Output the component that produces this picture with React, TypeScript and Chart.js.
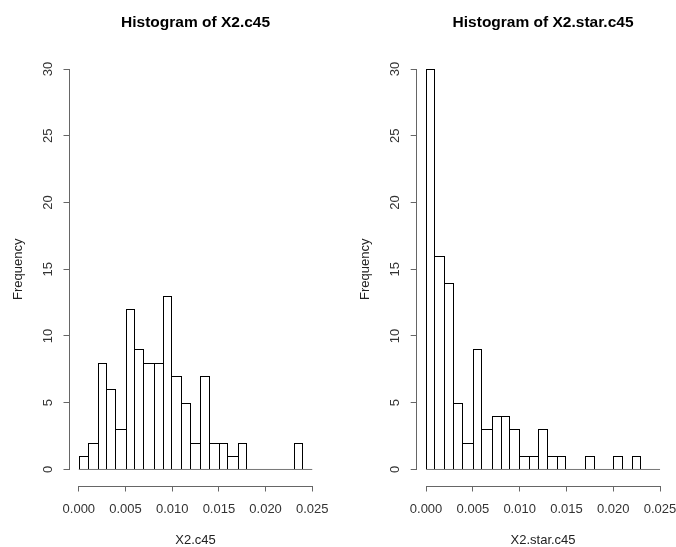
import React, { useEffect, useRef } from "react";
import { Chart, registerables } from "chart.js";

Chart.register(...registerables);

// Histogram bin edges (shared by both panels)
const breaks = [
  0, 0.001, 0.002, 0.003, 0.004, 0.005, 0.006, 0.007, 0.008, 0.009, 0.01, 0.011, 0.012,
  0.013, 0.014, 0.015, 0.016, 0.017, 0.018, 0.019, 0.02, 0.021, 0.022, 0.023, 0.024, 0.025,
];

// Frequencies
const countsX2c45 = [1, 2, 8, 6, 3, 12, 9, 8, 8, 13, 7, 5, 2, 7, 2, 2, 1, 2, 0, 0, 0, 0, 0, 2, 0];
const countsX2starc45 = [30, 16, 14, 5, 2, 9, 3, 4, 4, 3, 1, 1, 3, 1, 1, 0, 0, 1, 0, 0, 1, 0, 1, 0, 0];

const xTickValues = [0, 0.005, 0.01, 0.015, 0.02, 0.025];
const xTickLabels = ["0.000", "0.005", "0.010", "0.015", "0.020", "0.025"];
const yTickValues = [0, 5, 10, 15, 20, 25, 30];
const yTickLabels = ["0", "5", "10", "15", "20", "25", "30"];

const titleLeft = "Histogram of X2.c45";
const titleRight = "Histogram of X2.star.c45";
const xLabelLeft = "X2.c45";
const xLabelRight = "X2.star.c45";
const yLabel = "Frequency";

const FONT = "'Liberation Sans', Arial, Helvetica, sans-serif";
const W = 338;
const H = 547;
const AXIS_COLOR = "#666";

const alignPx = (p: number) => Math.round(p - 0.5) + 0.5;

// R-style axes: line only between first and last tick
const rAxes = {
  id: "rAxes",
  afterDraw(chart: any) {
    const { ctx, chartArea: a, scales } = chart;
    const x = scales.x;
    const y = scales.y;
    ctx.save();
    ctx.strokeStyle = AXIS_COLOR;
    ctx.lineWidth = 1;
    ctx.beginPath();
    const yLine = Math.round(a.bottom) + 0.5;
    ctx.moveTo(alignPx(x.getPixelForValue(xTickValues[0])) - 0.5, yLine);
    ctx.lineTo(alignPx(x.getPixelForValue(xTickValues[xTickValues.length - 1])) + 0.5, yLine);
    const xLine = Math.round(a.left) - 0.5;
    ctx.moveTo(xLine, alignPx(y.getPixelForValue(yTickValues[0])) + 0.5);
    ctx.lineTo(xLine, alignPx(y.getPixelForValue(yTickValues[yTickValues.length - 1])) - 0.5);
    ctx.stroke();
    ctx.restore();
  },
};

// Snap bar edges to whole pixels so outlines are crisp
const snapBars = {
  id: "snapBars",
  beforeDatasetsDraw(chart: any) {
    chart.data.datasets.forEach((_ds: any, i: number) => {
      const meta = chart.getDatasetMeta(i);
      if (meta.type !== "bar") return;
      meta.data.forEach((el: any) => {
        const l = Math.round(el.x - el.width / 2);
        const r = Math.round(el.x + el.width / 2);
        el.x = (l + r) / 2;
        el.width = r - l;
        el.y = Math.round(el.y);
        el.base = Math.round(el.base);
      });
    });
  },
};

type PanelProps = {
  title: string;
  xLabel: string;
  counts: number[];
  areaLeft: number;
  areaRight: number;
  freqPad: number;
  offsetX: number;
};

function Panel({ title, xLabel, counts, areaLeft, areaRight, freqPad, offsetX }: PanelProps) {
  const ref = useRef<HTMLCanvasElement>(null);
  useEffect(() => {
    const canvas = ref.current;
    if (!canvas) return;
    const bars = counts.map((c, i) => ({ x: (breaks[i] + breaks[i + 1]) / 2, y: c }));
    const tickFont = { family: FONT, size: 13, lineHeight: 1.2 };
    const chart = new Chart(canvas, {
      type: "bar",
      data: {
        datasets: [
          {
            type: "line",
            data: [
              { x: breaks[0], y: 0 },
              { x: breaks[breaks.length - 1], y: 0 },
            ],
            borderColor: "#777",
            borderWidth: 1,
            pointRadius: 0,
            fill: false,
            order: 0,
          } as any,
          {
            type: "bar",
            data: bars,
            backgroundColor: "#ffffff",
            borderColor: "#000",
            borderSkipped: false,
            inflateAmount: 0,
            barPercentage: 1,
            categoryPercentage: 1,
            order: 1,
            borderWidth: (c: any) => {
              const i = c.dataIndex;
              const h = counts[i];
              if (!h) return 0;
              const prev = i > 0 ? counts[i - 1] : 0;
              const next = i < counts.length - 1 ? counts[i + 1] : 0;
              return { top: 1, bottom: 0, left: h >= prev ? 1 : 0, right: h > next ? 1 : 0 };
            },
          } as any,
        ],
      },
      options: {
        responsive: false,
        animation: false,
        events: [],
        layout: { padding: { left: 0, right: W - areaRight, top: 0, bottom: 0 } },
        plugins: {
          legend: { display: false },
          tooltip: { enabled: false },
          title: {
            display: true,
            text: title,
            fullSize: false,
            color: "#000",
            font: { family: FONT, size: 15.5, weight: "bold", lineHeight: 1.2 },
            padding: { top: 13.2, bottom: 21.2 },
          },
        },
        scales: {
          x: {
            type: "linear",
            min: -0.001,
            max: 0.026,
            offset: false,
            afterBuildTicks: (s: any) => {
              s.ticks = xTickValues.map((v) => ({ value: v }));
            },
            afterFit: (s: any) => {
              s.height = H - 485.5;
              s.paddingLeft = 0;
              s.paddingRight = 0;
            },
            ticks: {
              callback: (_v: any, i: number) => xTickLabels[i],
              color: "#333",
              font: tickFont,
              padding: 10,
              minRotation: 0,
              maxRotation: 0,
              autoSkip: false,
            },
            grid: {
              offset: false,
              drawOnChartArea: false,
              drawTicks: true,
              tickLength: 6,
              tickColor: AXIS_COLOR,
              tickWidth: 1,
            },
            border: { display: false },
            title: {
              display: true,
              text: xLabel,
              color: "#222",
              font: { family: FONT, size: 13, lineHeight: 1 },
              padding: { top: 0, bottom: 0 },
            },
          } as any,
          y: {
            type: "linear",
            min: -1.2,
            max: 31.2,
            afterBuildTicks: (s: any) => {
              s.ticks = yTickValues.map((v) => ({ value: v }));
            },
            afterFit: (s: any) => {
              s.width = areaLeft;
              s.paddingTop = 0;
              s.paddingBottom = 0;
            },
            ticks: {
              callback: (_v: any, i: number) => yTickLabels[i],
              color: "#333",
              font: tickFont,
              padding: 8,
              minRotation: 90,
              maxRotation: 90,
              crossAlign: "center",
              autoSkip: false,
            },
            grid: {
              drawOnChartArea: false,
              drawTicks: true,
              tickLength: 6,
              tickColor: AXIS_COLOR,
              tickWidth: 1,
            },
            border: { display: false },
            title: {
              display: true,
              text: yLabel,
              color: "#222",
              font: { family: FONT, size: 13, lineHeight: 1.2 },
              padding: { top: freqPad, bottom: 0 },
            },
          } as any,
        },
      } as any,
      plugins: [snapBars, rAxes],
    });
    return () => chart.destroy();
  }, []);
  return (
    <canvas
      ref={ref}
      width={W}
      height={H}
      style={{ position: "absolute", left: offsetX, top: 0, width: W, height: H, display: "block" }}
    />
  );
}

export default function App() {
  return (
    <div
      style={{
        position: "absolute",
        left: 0,
        top: 0,
        width: 676,
        height: 547,
        background: "#ffffff",
        overflow: "hidden",
      }}
    >
      <Panel
        title={titleLeft}
        xLabel={xLabelLeft}
        counts={countsX2c45}
        areaLeft={69.5}
        areaRight={321.6}
        freqPad={10.5}
        offsetX={0}
      />
      <Panel
        title={titleRight}
        xLabel={xLabelRight}
        counts={countsX2starc45}
        areaLeft={78.7}
        areaRight={331.4}
        freqPad={20}
        offsetX={338}
      />
    </div>
  );
}
